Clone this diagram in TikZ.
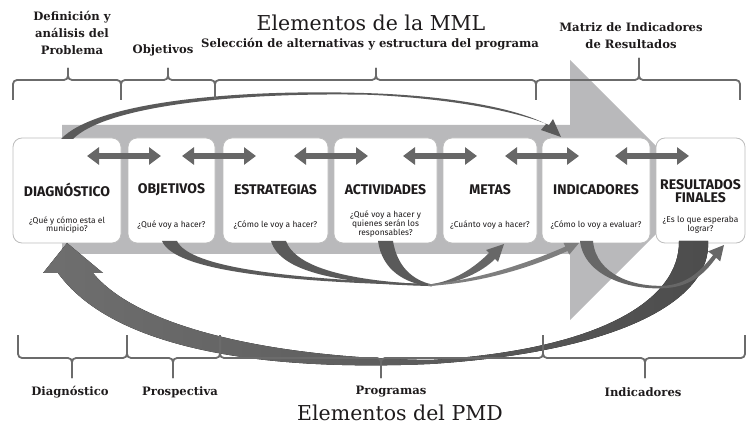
\documentclass[tikz,border=0pt]{standalone}
\usepackage{fontspec}
\setmainfont{DejaVu Serif}
\newfontfamily\boxfont{Fira Sans}
\usetikzlibrary{arrows.meta}
\definecolor{bandgray}{HTML}{B9B9BB}
\definecolor{darkgr}{HTML}{5A5A5A}
\definecolor{arrgr}{HTML}{676767}
\definecolor{brkgr}{HTML}{6B6B6B}
\definecolor{txt}{HTML}{1E1B1C}
\definecolor{boxline}{HTML}{BDBDBD}
\tikzset{
 stage/.style={draw=boxline, line width=0.8pt, fill=white, rounded corners=9pt, minimum height=105pt, inner sep=0pt},
 ttl/.style={font=\boxfont\bfseries\fontsize{14}{13}\selectfont, text=txt, inner sep=0pt, align=center},
 sub/.style={font=\boxfont\fontsize{8.4}{8.8}\selectfont, text=txt, inner sep=0pt, align=center},
 dbl/.style={draw=arrgr, line width=6.5pt, {Triangle[length=12pt,width=17pt]}-{Triangle[length=12pt,width=17pt]}},
 brk/.style={draw=brkgr, line width=1.8pt, rounded corners=4pt},
 hdr/.style={font=\bfseries\fontsize{11.6}{17}\selectfont, text=txt, align=center, inner sep=0pt},
 bigttl/.style={font=\fontsize{20.5}{24}\selectfont, text=txt, inner sep=0pt},
 swoosh/.style={fill=darkgr},
}
\newcommand\upbrace[4]{%
 \draw[brk] (#1,100) -- (#1,80) -- (#2,80) -- (#2,#4);
 \draw[brk] (#2,#4) -- (#2,80) -- (#3,80) -- (#3,100);}
\newcommand\downbrace[3]{%
 \draw[brk] (#1,335) -- (#1,358) -- (#2,358) -- (#2,378);
 \draw[brk] (#2,378) -- (#2,358) -- (#3,358) -- (#3,335);}
\begin{document}
\begin{tikzpicture}[x=1pt,y=-1pt]
\useasboundingbox (0,0) rectangle (746,427);
% background big arrow
\fill[bandgray] (62,125) -- (570,125) -- (570,60) -- (700,190) -- (570,320) -- (570,254) -- (62,254) -- cycle;
% stages
\node[stage, minimum width=108pt] (b1) at (67,190.5) {};
\node[stage, minimum width=87pt] (b2) at (171.5,190.5) {};
\node[stage, minimum width=105pt] (b3) at (275.5,190.5) {};
\node[stage, minimum width=103pt] (b4) at (385.5,190.5) {};
\node[stage, minimum width=94pt] (b5) at (490,190.5) {};
\node[stage, minimum width=108pt] (b6) at (596,190.5) {};
\node[stage, minimum width=89pt] (b7) at (700.5,190.5) {};
% top swoosh arrow
\fill[swoosh] (61,139) .. controls (95,103) and (230,88.5) .. (370,93.2)
  .. controls (450,96) and (515,108) .. (546,124)
  -- (541,130) -- (561,137) -- (553,119) -- (549,125)
  .. controls (516,111) and (450,98.5) .. (370,94.8)
  .. controls (230,92) and (105,107) .. (73,139) -- cycle;
% double arrows
\foreach \i/\c in {1/124,2/219,3/331,4/440,5/542,6/652}{
  \coordinate (d\i a) at (\c-37,156);
  \coordinate (d\i b) at (\c+37,156);
}
\draw[dbl] (d1a) -- (d1b);
\draw[dbl] (d2a) -- (d2b);
\draw[dbl] (d3a) -- (d3b);
\draw[dbl] (d4a) -- (d4b);
\draw[dbl] (d5a) -- (d5b);
\draw[dbl] (d6a) -- (d6b);
% lower curves from OBJETIVOS, ESTRATEGIAS, ACTIVIDADES
\fill[swoosh] (162,241) .. controls (175,272) and (290,282) .. (430,285.5)
  -- (430,284) .. controls (290,279) and (190,268) .. (177,241) -- cycle;
\fill[swoosh] (271,241) .. controls (280,272) and (340,284) .. (430,286)
  -- (430,284.5) .. controls (350,281) and (296,268) .. (286,241) -- cycle;
\fill[swoosh] (378,241) .. controls (382,270) and (405,284) .. (432,286.5)
  -- (432,284.5) .. controls (412,280) and (397,266) .. (393,241) -- cycle;
% arrows to METAS and INDICADORES
\fill[arrgr] (428,286) .. controls (458,284) and (482,272) .. (495,259)
  -- (498,262) -- (504,244) -- (486,250) -- (489,253)
  .. controls (476,266) and (455,282) .. (428,284.5) -- cycle;
\fill[arrgr!85!white] (428,286) .. controls (480,283) and (530,268) .. (567.5,251)
  -- (569.3,254.6) -- (579,243) -- (563.5,243) -- (565.3,246.6)
  .. controls (528,263) and (478,280) .. (428,284.5) -- cycle;
% big return arrow from RESULTADOS to DIAGNOSTICO
\fill[left color=arrgr!95!white, right color=darkgr!85!black]
  (708,241) .. controls (712,300) and (620,352) .. (430,364)
  .. controls (250,372) and (110,345) .. (58,273)
  -- (43,273) -- (67,243) -- (103,273) -- (93,273)
  .. controls (140,330) and (280,358) .. (430,360)
  .. controls (600,350) and (680,300) .. (679,241) -- cycle;
% loop from INDICADORES to RESULTADOS
\fill[arrgr] (580,241) .. controls (584,276) and (630,291) .. (667,288)
  .. controls (692,286) and (706,272) .. (716.1,257.7)
  -- (720.2,261.4) -- (724,245) -- (708,251.4) -- (713.1,255.1)
  .. controls (703,268) and (690,283) .. (667,285.5)
  .. controls (635,288) and (596,275) .. (593,241) -- cycle;
% box texts
\node[ttl] (t1) at (67,190) {DIAGNÓSTICO};
\node[ttl] (t2) at (171.5,190) {OBJETIVOS};
\node[ttl] (t3) at (275.5,190) {ESTRATEGIAS};
\node[ttl] (t4) at (385.5,190) {ACTIVIDADES};
\node[ttl] (t5) at (490,190) {METAS};
\node[ttl] (t6) at (596,190) {INDICADORES};
\node[ttl] (t7) at (700.5,191.5) {RESULTADOS\\FINALES};
\node[sub] (s1) at (67,225) {¿Qué y cómo esta el\\municipio?};
\node[sub] (s2) at (171.5,225) {¿Qué voy a hacer?};
\node[sub] (s3) at (275.5,225) {¿Cómo le voy a hacer?};
\node[sub] (s4) at (385.5,224) {¿Qué voy a hacer y\\quienes serán los\\responsables?};
\node[sub] (s5) at (490,225) {¿Cuánto voy a hacer?};
\node[sub] (s6) at (596,225) {¿Cómo lo voy a evaluar?};
\node[sub] (s7) at (700.5,225) {¿Es lo que esperaba\\lograr?};
% braces
\upbrace{13}{68}{121}{68}
\upbrace{121}{168}{215}{68}
\upbrace{215}{376}{536}{68}
\upbrace{536}{639}{740}{58}
\downbrace{18}{72}{127}
\downbrace{127}{173}{220}
\downbrace{220}{381}{543}
\downbrace{543}{645}{745}
% headings
\node[hdr] (h1) at (72,33) {Definición y\\análisis del\\Problema};
\node[hdr] (h2) at (163,50) {Objetivos};
\node[bigttl] (h3) at (371,23) {Elementos de la MML};
\node[hdr] (h4) at (370,44) {Selección de alternativas y estructura del programa};
\node[hdr] (h5) at (631,36) {Matriz de Indicadores\\de Resultados};
\node[hdr] (f1) at (70,392) {Diagnóstico};
\node[hdr] (f2) at (180,392) {Prospectiva};
\node[hdr] (f3) at (391,392) {Programas};
\node[hdr] (f4) at (643,392) {Indicadores};
\node[bigttl] (f5) at (400,413) {Elementos del PMD};
\end{tikzpicture}
\end{document}
